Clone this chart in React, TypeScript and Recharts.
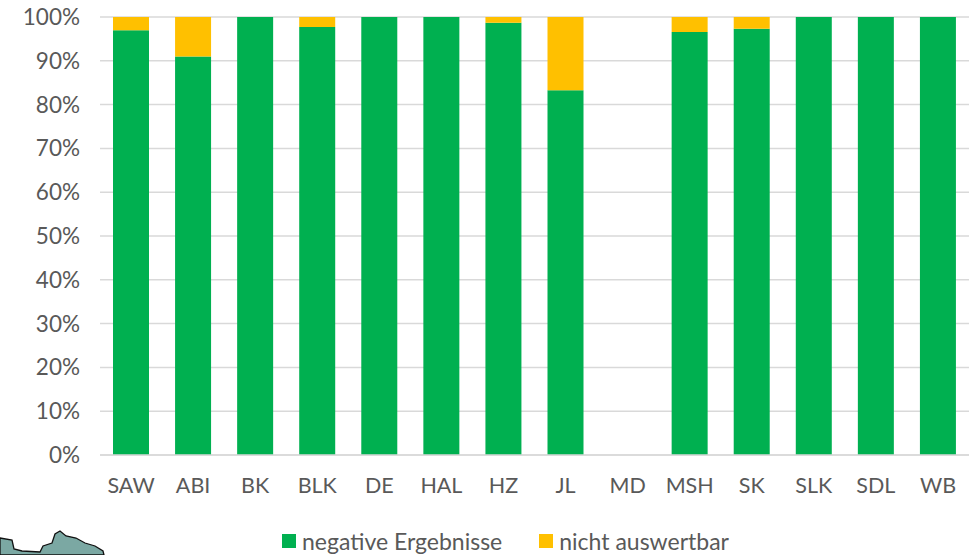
import React from "react";
import { BarChart, Bar, XAxis, YAxis, CartesianGrid, Legend } from "recharts";

const categories = ["SAW", "ABI", "BK", "BLK", "DE", "HAL", "HZ", "JL", "MD", "MSH", "SK", "SLK", "SDL", "WB"];
const negative = [97, 91, 100, 97.7, 100, 100, 98.7, 83.3, null, 96.6, 97.3, 100, 100, 100];
const invalid = [3, 9, 0, 2.3, 0, 0, 1.3, 16.7, null, 3.4, 2.7, 0, 0, 0];
const yTicks = [0, 10, 20, 30, 40, 50, 60, 70, 80, 90, 100];

const data = categories.map((name, i) => ({ name, negative: negative[i], invalid: invalid[i] }));
const font = "Lato, Carlito, sans-serif";
const tick = { fill: "#595959", fontSize: 21.5, fontFamily: font };
const yTick = { fill: "#595959", fontSize: 22.5, fontFamily: font };

const renderLegend = (props: any) => (
  <div style={{ display: "flex", alignItems: "center", height: 31 }}>
    {(props.payload || []).map((e: any) => (
      <div key={e.value} style={{ display: "flex", alignItems: "center", marginRight: 37 }}>
        <span style={{ width: 14, height: 14, background: e.color, marginRight: 6, display: "inline-block" }} />
        <span style={{ color: "#595959", fontSize: 23, fontFamily: font, whiteSpace: "nowrap" }}>{e.value}</span>
      </div>
    ))}
  </div>
);

export default function App() {
  return (
    <div style={{ position: "absolute", left: 0, top: 0, width: 975, height: 555, overflow: "hidden", background: "#fff" }}>
      <BarChart
        width={975}
        height={555}
        data={data}
        barCategoryGap={13}
        margin={{ top: 17, right: 6, bottom: 25, left: 0 }}
      >
        <CartesianGrid vertical={false} stroke="#d9d9d9" strokeWidth={1.5} />
        <XAxis
          dataKey="name"
          height={44}
          tick={tick}
          tickLine={false}
          axisLine={{ stroke: "#d9d9d9", strokeWidth: 1.5 }}
          tickMargin={17}
          interval={0}
        />
        <YAxis
          width={100}
          domain={[0, 100]}
          ticks={yTicks}
          tickFormatter={(v: number) => `${v}%`}
          tick={yTick}
          tickLine={false}
          axisLine={false}
          tickMargin={14}
          interval={0}
        />
        <Bar dataKey="negative" name="negative Ergebnisse" stackId="a" fill="#00b050" isAnimationActive={false} />
        <Bar dataKey="invalid" name="nicht auswertbar" stackId="a" fill="#ffc000" isAnimationActive={false} />
        <Legend
          content={renderLegend}
          wrapperStyle={{ left: 282, width: 600, bottom: 0, top: 525, height: 31 }}
        />
      </BarChart>
      <svg width={140} height={30} style={{ position: "absolute", left: 0, top: 525 }}>
        <path
          d="M0 13 L12 15 L14 24 L22 26 L40 27 L43 21 L52 18 L55 9 L60 6 L66 11 L76 13 L85 18 L95 21 L103 26 L104 30 L0 30 Z"
          fill="#7ba8a3"
          stroke="#111"
          strokeWidth={1.3}
        />
      </svg>
    </div>
  );
}
